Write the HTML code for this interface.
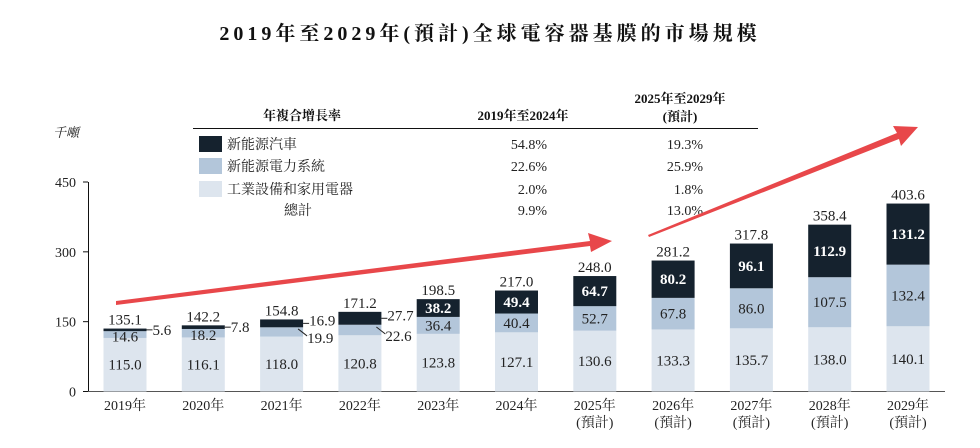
<!DOCTYPE html>
<html><head><meta charset="utf-8"><style>
body{margin:0;background:#fff;}
svg{display:block;font-family:"Liberation Serif","Noto Serif CJK SC",serif;}
</style></head><body>
<svg id="c" width="980" height="448" xmlns="http://www.w3.org/2000/svg">
<text x="490" y="40" text-anchor="middle" font-size="20" font-weight="bold" letter-spacing="4" fill="#111">2019年至2029年(預計)全球電容器基膜的市場規模</text>
<g>
<text x="302" y="120" text-anchor="middle" font-size="13" font-weight="bold" fill="#111">年複合增長率</text>
<text x="523" y="120" text-anchor="middle" font-size="13" font-weight="bold" fill="#111">2019年至2024年</text>
<text x="680" y="103" text-anchor="middle" font-size="13" font-weight="bold" fill="#111">2025年至2029年</text>
<text x="680" y="121" text-anchor="middle" font-size="13" font-weight="bold" fill="#111">(預計)</text>
<line x1="193" y1="128.5" x2="758" y2="128.5" stroke="#111" stroke-width="1"/>
<rect x="199" y="136" width="23" height="16" fill="#15222e"/>
<rect x="199" y="158" width="23" height="16" fill="#b3c6da"/>
<rect x="199" y="181" width="23" height="16" fill="#dde5ee"/>
<g font-size="14" fill="#222">
<text x="227" y="149">新能源汽車</text>
<text x="227" y="171">新能源電力系統</text>
<text x="227" y="194">工業設備和家用電器</text>
<text x="298" y="215" text-anchor="middle">總計</text>
<g text-anchor="end">
<text x="547" y="149">54.8%</text><text x="547" y="171">22.6%</text><text x="547" y="194">2.0%</text><text x="547" y="215">9.9%</text>
<text x="703" y="149">19.3%</text><text x="703" y="171">25.9%</text><text x="703" y="194">1.8%</text><text x="703" y="215">13.0%</text>
</g></g></g>
<text x="53" y="137" font-size="13" font-style="italic" fill="#222">千噸</text>
<g id="axes"></g>
<g id="bars"></g>
<g>
<polygon points="116,301 590,241 588,233 612,241 591,252 590,246 116,305" fill="#e8474a"/>
<polygon points="648,235 897,133 893,126 918,127 901,146 899,139 649,237" fill="#e8474a"/>
</g>
</svg>
<script>
const years=["2019年","2020年","2021年","2022年","2023年","2024年","2025年","2026年","2027年","2028年","2029年"];
const forecast=[false,false,false,false,false,false,true,true,true,true,true];
const industrial=[115.0,116.1,118.0,120.8,123.8,127.1,130.6,133.3,135.7,138.0,140.1];
const power=[14.6,18.2,19.9,22.6,36.4,40.4,52.7,67.8,86.0,107.5,132.4];
const nev=[5.6,7.8,16.9,27.7,38.2,49.4,64.7,80.2,96.1,112.9,131.2];
const totals=[135.1,142.2,154.8,171.2,198.5,217.0,248.0,281.2,317.8,358.4,403.6];
const yTicks=[0,150,300,450];
const NS="http://www.w3.org/2000/svg";
const y0=391.5, yScale=209.5/450, x0=125, pitch=78.3, bw=43;
const Y=v=>y0-v*yScale, X=i=>x0+i*pitch;
function el(t,a,p,txt){const e=document.createElementNS(NS,t);for(const k in a)e.setAttribute(k,a[k]);if(txt!==undefined)e.textContent=txt;p.appendChild(e);return e;}
const ax=document.getElementById('axes'), bars=document.getElementById('bars');
const yl=el('line',{x1:88.5,y1:Y(450),x2:88.5,y2:y0,stroke:'#111','stroke-width':1},ax);


const xl=el('line',{x1:88,y1:y0,x2:945,y2:y0,stroke:'#555','stroke-width':1},ax);


yTicks.forEach(t=>{
 el('line',{x1:83,y1:Y(t),x2:88,y2:Y(t),stroke:'#111'},ax);
 const tl=el('text',{x:76,y:Y(t)+5,'text-anchor':'end','font-size':14,fill:'#222'},ax,String(t));
 
 
});
years.forEach((yr,i)=>{
 const cx=X(i), l=cx-bw/2;
 const g=el('g',{},bars);
 
 
 const a=industrial[i], b=power[i], c=nev[i];
 const r1=el('rect',{x:l,y:Y(a),width:bw,height:a*yScale,fill:'#dde5ee'},g);
 
 
 const r2=el('rect',{x:l,y:Y(a+b),width:bw,height:b*yScale,fill:'#b3c6da'},g);
 
 
 const r3=el('rect',{x:l,y:Y(a+b+c),width:bw,height:c*yScale,fill:'#15222e'},g);
 
 
 const fs=15;
 el('text',{x:cx,y:(Y(0)+Y(a))/2+5,'text-anchor':'middle','font-size':fs,fill:'#222'},g,a.toFixed(1));
 if(i<4){
  el('text',{x:cx,y:(Y(a)+Y(a+b))/2+5+(i<2?2:0),'text-anchor':'middle','font-size':fs,fill:'#222'},g,i<2?b.toFixed(1):'');
  if(i>=2){el('line',{x1:l+bw-5,y1:Y(a+b/2)-3,x2:l+bw+4,y2:Y(a+b/2)+4,stroke:'#222'},g);
   el('text',{x:l+bw+4,y:Y(a+b/2)+11,'font-size':fs,fill:'#222'},g,b.toFixed(1));}
  el('line',{x1:l+bw,y1:Y(a+b+c/2),x2:l+bw+6,y2:Y(a+b+c/2),stroke:'#222'},g);
  el('text',{x:l+bw+6,y:Y(a+b+c/2)+(i<2?5:2),'font-size':fs,fill:'#222'},g,c.toFixed(1));
 } else {
  el('text',{x:cx,y:(Y(a)+Y(a+b))/2+5,'text-anchor':'middle','font-size':fs,fill:'#222'},g,b.toFixed(1));
  el('text',{x:cx,y:(Y(a+b)+Y(a+b+c))/2+5,'text-anchor':'middle','font-size':fs,'font-weight':'bold',fill:'#fff'},g,c.toFixed(1));
 }
 const tt=el('text',{x:cx,y:Y(totals[i])-4,'text-anchor':'middle','font-size':15,fill:'#222'},g,totals[i].toFixed(1));
 
 
 const xt=el('text',{x:cx,y:410,'text-anchor':'middle','font-size':14,fill:'#222'},ax,yr);
 
 
 if(forecast[i]) el('text',{x:cx,y:427,'text-anchor':'middle','font-size':14,fill:'#222'},ax,'(預計)');
});
</script>
</body></html>
